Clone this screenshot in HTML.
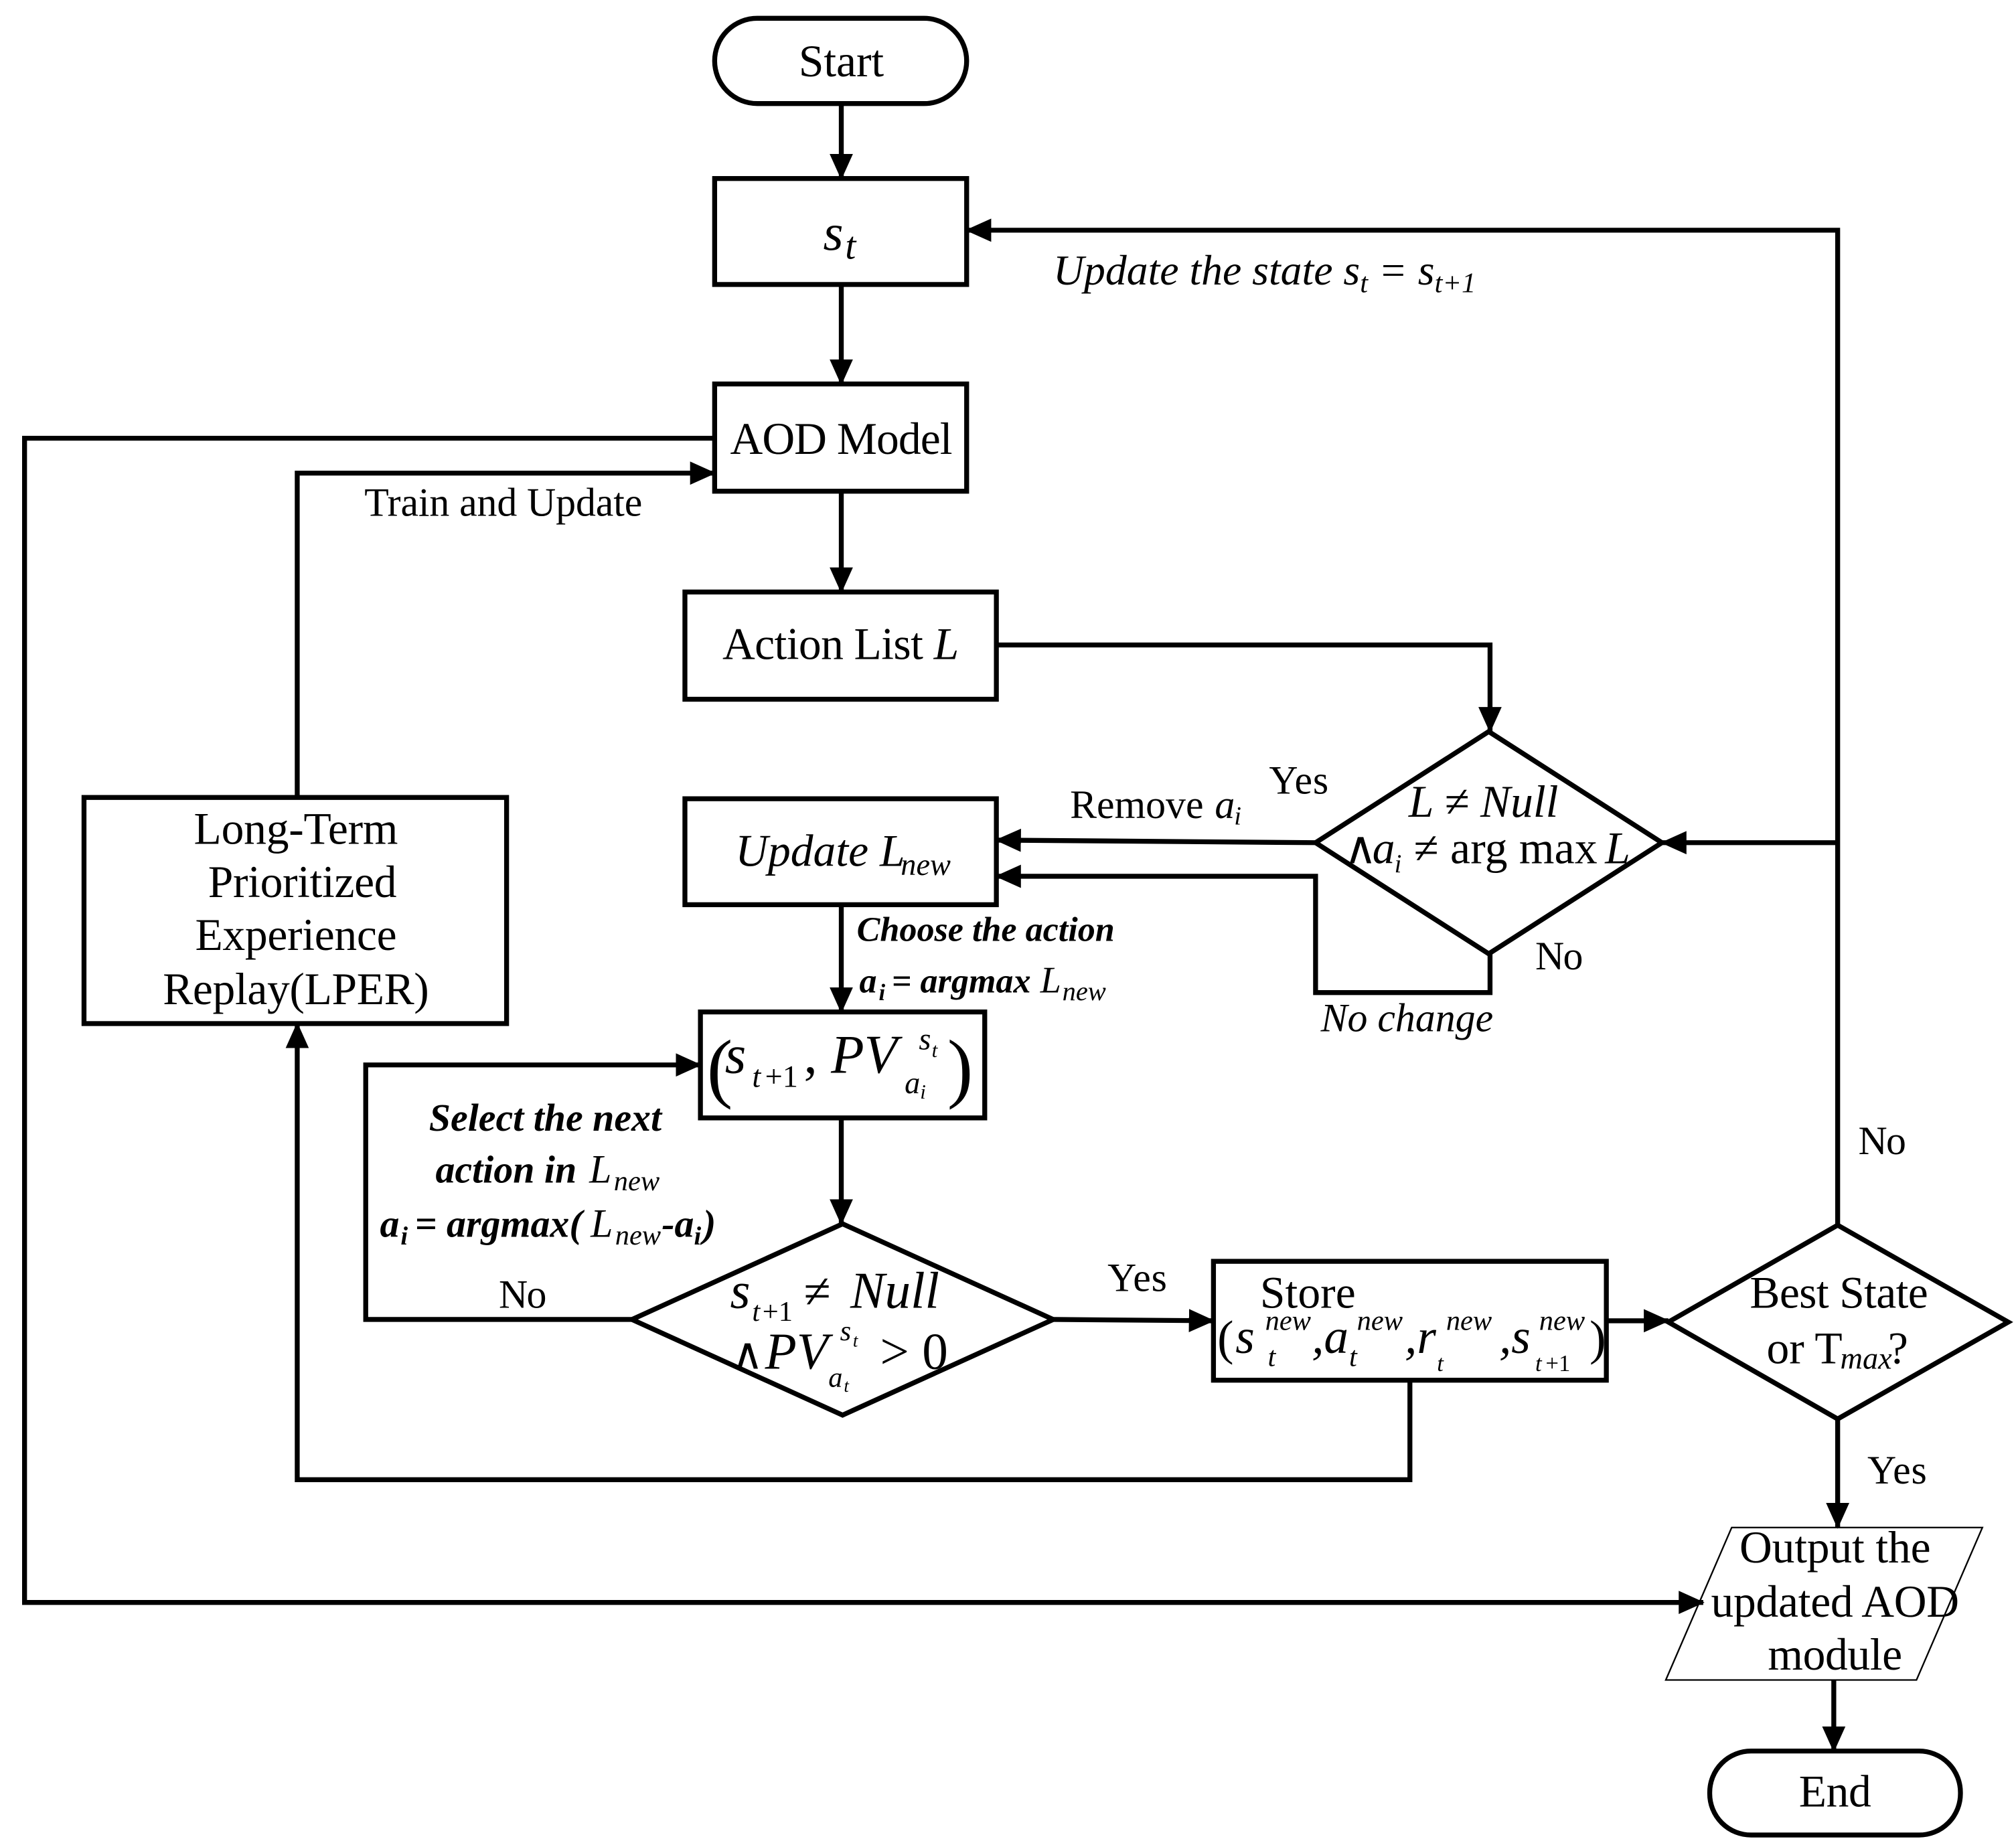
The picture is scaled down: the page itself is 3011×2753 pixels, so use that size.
<!DOCTYPE html>
<html><head><meta charset="utf-8"><style>
html,body{margin:0;padding:0;background:#fff}
svg{display:block}
text{font-family:"Liberation Serif","Times New Roman",serif;fill:#000}
.i{font-style:italic}
.b{font-weight:bold}
</style></head><body>
<svg width="3011" height="2753" viewBox="0 0 1560 1426" xmlns="http://www.w3.org/2000/svg">
<defs>
<marker id="A" markerWidth="20" markerHeight="20" refX="19" refY="10" orient="auto" markerUnits="userSpaceOnUse" viewBox="0 0 20 20">
<path d="M0,1 L20,10 L0,19 z" fill="#000"/></marker>
</defs>
<g fill="none" stroke="#000" stroke-width="3.8">
<rect x="553" y="14" width="195" height="66" rx="33"/>
<rect x="553" y="138" width="195" height="82"/>
<rect x="553" y="297" width="195" height="83"/>
<rect x="530" y="458" width="241" height="83"/>
<rect x="530" y="618" width="241" height="82"/>
<polygon points="1152,566 1286,652 1152,738 1018,652"/>
<rect x="65" y="617" width="327" height="175"/>
<rect x="542" y="783" width="220" height="82"/>
<polygon points="652,947 815,1021 652,1095 489,1021"/>
<rect x="939" y="976" width="304" height="92"/>
<polygon points="1422,948 1554,1023 1422,1098 1291,1023"/>
<rect x="1323" y="1355" width="194" height="65" rx="32"/>
</g>
<polygon points="1340,1182 1534,1182 1483,1300 1289,1300" fill="none" stroke="#000" stroke-width="1.2"/>
<g fill="none" stroke="#000" stroke-width="3.8" marker-end="url(#A)">
<path d="M651,80 V138"/>
<path d="M651,220 V297"/>
<path d="M651,380 V458"/>
<path d="M771,499 H1153 V566"/>
<path d="M1018,652 L771,650"/>
<path d="M1153,738 V768 H1018 V678 H771"/>
<path d="M651,700 V783"/>
<path d="M651,865 V947"/>
<path d="M489,1021 H283 V824 H542"/>
<path d="M815,1021 L939,1022"/>
<path d="M1243,1022 H1291"/>
<path d="M1091,1068 V1145 H230 V792"/>
<path d="M230,617 V366 H553"/>
<path d="M553,339 H19 V1240 H1318"/>
<path d="M1422,948 V178 H748"/>
<path d="M1422,652 H1286"/>
<path d="M1422,1098 V1182"/>
<path d="M1419,1300 V1355"/>
</g>
<g font-size="35">
<text x="618" y="59" textLength="66">Start</text>
<text x="637" y="193" class="i" font-size="40">s</text><text x="654" y="200" class="i" font-size="30">t</text>
<text x="565" y="351" textLength="172">AOD Model</text>
<text x="559" y="510" textLength="183">Action List <tspan class="i">L</tspan></text>
<text x="569" y="670" class="i">Update L</text><text x="697" y="677" class="i" font-size="24">new</text>
<text x="1090" y="632" class="i">L ≠ Null</text>
<text x="1040" y="668">∧</text><text x="1062" y="668" class="i">a</text><text x="1079" y="675" class="i" font-size="20">i</text>
<text x="1094" y="668" textLength="142">≠ arg max</text><text x="1242" y="668" class="i">L</text>
<text x="150" y="653" textLength="158">Long-Term</text>
<text x="161" y="694" textLength="146">Prioritized</text>
<text x="151" y="735" textLength="156">Experience</text>
<text x="126" y="777" textLength="206">Replay(LPER)</text>
<text x="547" y="846" font-size="60">(</text>
<text x="561" y="830" class="i" font-size="42">s</text>
<text x="582" y="841" class="i" font-size="24">t</text><text x="592" y="841" font-size="24">+1</text>
<text x="622" y="830" font-size="42">,</text>
<text x="643" y="830" class="i" font-size="42">PV</text>
<text x="711" y="812" class="i" font-size="24">s</text><text x="721" y="818" class="i" font-size="16">t</text>
<text x="700" y="846" class="i" font-size="24">a</text><text x="712" y="850" class="i" font-size="16">i</text>
<text x="733" y="846" font-size="60">)</text>
<text x="565" y="1012" class="i" font-size="40">s</text>
<text x="582" y="1022" class="i" font-size="22">t</text><text x="590" y="1022" font-size="22">+1</text>
<text x="622" y="1012" font-size="38">≠</text>
<text x="658" y="1012" class="i" font-size="40">Null</text>
<text x="566" y="1059" font-size="34">∧</text>
<text x="592" y="1059" class="i" font-size="40">PV</text>
<text x="650" y="1037" class="i" font-size="22">s</text><text x="660" y="1042" class="i" font-size="14">t</text>
<text x="641" y="1073" class="i" font-size="22">a</text><text x="653" y="1077" class="i" font-size="14">t</text>
<text x="681" y="1059" font-size="40">&gt; 0</text>
<text x="975" y="1012" textLength="74">Store</text>
<text x="942" y="1048" font-size="38">(</text>
<text x="956" y="1047" class="i" font-size="38">s</text>
<text x="979" y="1029" class="i" font-size="22">new</text>
<text x="981" y="1057" class="i" font-size="22">t</text>
<text x="1015" y="1047" class="i" font-size="38">,a</text>
<text x="1050" y="1029" class="i" font-size="22">new</text>
<text x="1044" y="1057" class="i" font-size="22">t</text>
<text x="1087" y="1047" class="i" font-size="38">,r</text>
<text x="1119" y="1029" class="i" font-size="22">new</text>
<text x="1112" y="1061" class="i" font-size="18">t</text>
<text x="1160" y="1047" class="i" font-size="38">,s</text>
<text x="1191" y="1029" class="i" font-size="22">new</text>
<text x="1188" y="1061" class="i" font-size="18">t</text><text x="1196" y="1061" font-size="18">+1</text>
<text x="1230" y="1048" font-size="38">)</text>
<text x="1354" y="1012" textLength="138">Best State</text>
<text x="1367" y="1055">or T</text><text x="1424" y="1059" class="i" font-size="24">max</text><text x="1461" y="1055">?</text>
<text x="1346" y="1209" textLength="148">Output the</text>
<text x="1324" y="1251" textLength="192">updated AOD</text>
<text x="1368" y="1292" textLength="104">module</text>
<text x="1392" y="1398" textLength="56">End</text>
</g>
<g font-size="31">
<text x="815" y="220" class="i" font-size="33">Update the state s<tspan font-size="22" dy="6">t</tspan><tspan dy="-6"> = s</tspan><tspan font-size="22" dy="6">t+1</tspan></text>
<text x="282" y="399" textLength="215">Train and Update</text>
<text x="982" y="614" textLength="46">Yes</text>
<text x="828" y="633">Remove</text><text x="940" y="633" class="i">a</text><text x="955" y="638" class="i" font-size="20">i</text>
<text x="1188" y="750" textLength="37">No</text>
<text x="1022" y="798" class="i">No change</text>
<text x="663" y="728" class="i b" font-size="27">Choose the action</text>
<text x="665" y="768" class="i b" font-size="27">a</text><text x="680" y="774" class="i b" font-size="18">i</text>
<text x="690" y="768" class="i b" font-size="27">= argmax</text>
<text x="805" y="768" class="i" font-size="29">L</text><text x="822" y="774" class="i" font-size="21">new</text>
<text x="332" y="875" class="i b" font-size="30">Select the next</text>
<text x="337" y="915" class="i b" font-size="30">action in</text>
<text x="456" y="915" class="i" font-size="31">L</text><text x="475" y="921" class="i" font-size="22">new</text>
<text x="294" y="957" class="i b" font-size="30">a</text><text x="310" y="963" class="i b" font-size="20">i</text>
<text x="321" y="957" class="i b" font-size="30">= argmax(</text>
<text x="457" y="957" class="i" font-size="31">L</text><text x="476" y="963" class="i" font-size="22">new</text>
<text x="512" y="957" class="i b" font-size="30">-a</text><text x="537" y="963" class="i b" font-size="20">i</text><text x="544" y="957" class="i b" font-size="30">)</text>
<text x="386" y="1012" textLength="37">No</text>
<text x="857" y="999" textLength="46">Yes</text>
<text x="1438" y="893" textLength="37">No</text>
<text x="1445" y="1148" textLength="46">Yes</text>
</g>
</svg>
</body></html>
